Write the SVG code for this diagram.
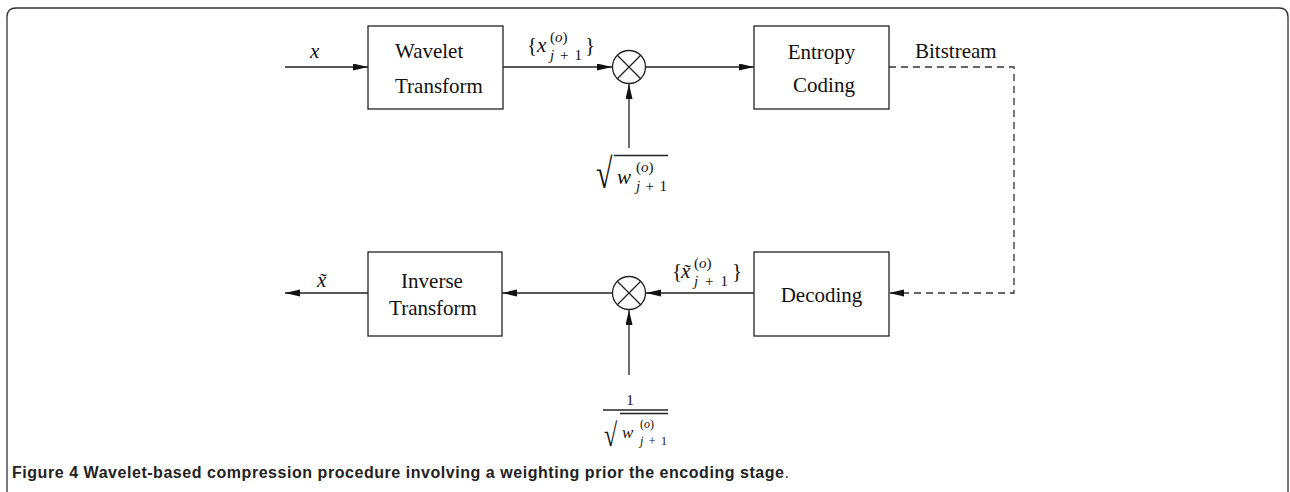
<svg xmlns="http://www.w3.org/2000/svg" width="1290" height="492" viewBox="0 0 1290 492">
<style>
.box{fill:#fff;stroke:#222;stroke-width:1.3}
.ln{fill:none;stroke:#222;stroke-width:1.3}
.dash{fill:none;stroke:#333;stroke-width:1.3;stroke-dasharray:7 5}
.t{font-family:"Liberation Serif","Times New Roman",serif;font-size:21px;fill:#111}
.m{font-family:"Liberation Serif","Times New Roman",serif;font-style:italic;fill:#111}
.r{font-family:"Liberation Serif","Times New Roman",serif;font-style:normal;fill:#111}
.cap{font-family:"Liberation Sans",Arial,sans-serif;font-size:16px;fill:#222}
</style>
<defs>
<marker id="ah" markerUnits="userSpaceOnUse" markerWidth="16" markerHeight="8" refX="15" refY="3.5" orient="auto">
<path d="M0,0 L15,3.5 L0,7 z" fill="#111"/>
</marker>
</defs>
<path d="M7,492 V17 Q7,8 16,8 H1279 Q1288,8 1288,17 V492" fill="none" stroke="#333" stroke-width="1.3"/>
<g id="connectors">
<line class="ln" x1="285" y1="67" x2="368" y2="67" marker-end="url(#ah)"/>
<line class="ln" x1="503" y1="67" x2="612" y2="67" marker-end="url(#ah)"/>
<line class="ln" x1="646" y1="67" x2="754" y2="67" marker-end="url(#ah)"/>
<line class="ln" x1="629" y1="148" x2="629" y2="84" marker-end="url(#ah)"/>
<path class="dash" d="M889,67 H1014 V293 H889" marker-end="url(#ah)"/>
<line class="ln" x1="754" y1="293" x2="646" y2="293" marker-end="url(#ah)"/>
<line class="ln" x1="612" y1="293" x2="502" y2="293" marker-end="url(#ah)"/>
<line class="ln" x1="368" y1="293" x2="285" y2="293" marker-end="url(#ah)"/>
<line class="ln" x1="629" y1="375" x2="629" y2="310" marker-end="url(#ah)"/>
</g>
<g id="wavelet">
<rect class="box" x="368" y="26" width="135" height="83"/>
<text class="t" x="395" y="58">Wavelet</text>
<text class="t" x="395" y="93">Transform</text>
</g>
<g id="mult-top">
<circle class="ln" cx="629" cy="67" r="16.5"/>
<path class="ln" d="M617.3,55.3 L640.7,78.7 M640.7,55.3 L617.3,78.7"/>
</g>
<g id="entropy">
<rect class="box" x="754" y="26" width="135" height="83"/>
<text class="t" x="821.5" y="59" text-anchor="middle">Entropy</text>
<text class="t" x="824" y="92" text-anchor="middle">Coding</text>
</g>
<g id="inverse">
<rect class="box" x="368" y="252" width="134" height="84"/>
<text class="t" x="432" y="288" text-anchor="middle">Inverse</text>
<text class="t" x="433" y="315" text-anchor="middle">Transform</text>
</g>
<g id="mult-bottom">
<circle class="ln" cx="629" cy="293" r="16.5"/>
<path class="ln" d="M617.3,281.3 L640.7,304.7 M640.7,281.3 L617.3,304.7"/>
</g>
<g id="decoding">
<rect class="box" x="754" y="252" width="135" height="84"/>
<text class="t" x="821.5" y="302" text-anchor="middle">Decoding</text>
</g>
<g id="labels">
<text class="m" x="310" y="58" font-size="21">x</text>
<text class="m" x="317" y="287" font-size="21">x̃</text>
<text class="t" x="915" y="58">Bitstream</text>
<text class="r" x="527" y="52" font-size="21">{</text>
<text class="m" x="537" y="52" font-size="21">x</text>
<text class="r" x="550" y="42" font-size="15">(<tspan class="m">o</tspan>)</text>
<text class="m" x="550" y="60" font-size="15" textLength="32" lengthAdjust="spacing">j<tspan class="r">+1</tspan></text>
<text class="r" x="585" y="52" font-size="21">}</text>
<text class="r" x="672" y="278" font-size="21">{</text>
<text class="m" x="681" y="278" font-size="21">x̃</text>
<text class="r" x="694" y="268" font-size="15">(<tspan class="m">o</tspan>)</text>
<text class="m" x="694" y="286" font-size="15" textLength="34" lengthAdjust="spacing">j<tspan class="r">+1</tspan></text>
<text class="r" x="732" y="278" font-size="21">}</text>
<text class="r" x="596" y="186" font-size="30" transform="translate(0,-72) scale(1,1.4)">√</text>
<line class="ln" x1="614" y1="155.5" x2="668" y2="155.5"/>
<text class="m" x="617" y="184" font-size="21">w</text>
<text class="r" x="636" y="172" font-size="15">(<tspan class="m">o</tspan>)</text>
<text class="m" x="636" y="191" font-size="15" textLength="31" lengthAdjust="spacing">j<tspan class="r">+1</tspan></text>
<text class="r" x="630" y="405" font-size="15" text-anchor="middle">1</text>
<line class="ln" x1="603" y1="410" x2="668" y2="410"/>
<text class="r" x="604" y="446" font-size="24" transform="translate(0,-156) scale(1,1.35)">√</text>
<line class="ln" x1="620" y1="413.5" x2="668" y2="413.5"/>
<text class="m" x="622" y="438" font-size="17">w</text>
<text class="r" x="640" y="428" font-size="12">(<tspan class="m">o</tspan>)</text>
<text class="m" x="640" y="445" font-size="12" textLength="27" lengthAdjust="spacing">j<tspan class="r">+1</tspan></text>
</g>
<text class="cap" x="12" y="478"><tspan font-weight="bold" textLength="772" lengthAdjust="spacing">Figure 4 Wavelet-based compression procedure involving a weighting prior the encoding stage</tspan>.</text>
</svg>
